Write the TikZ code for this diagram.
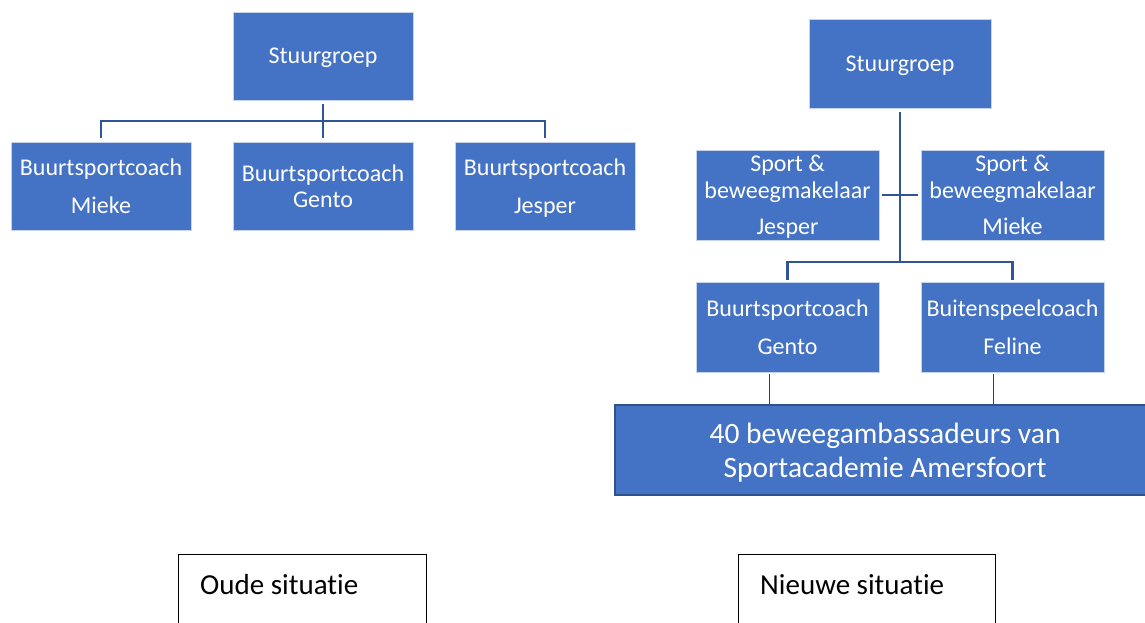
\documentclass[tikz,border=0pt]{standalone}
\usepackage{fontspec}
\setmainfont{Carlito}[Ligatures=NoCommon]
\definecolor{boxblue}{HTML}{4472C4}
\definecolor{boxedge}{HTML}{C5D3EC}
\definecolor{connblue}{HTML}{2F5597}
\definecolor{bigedge}{HTML}{2F528F}
\definecolor{lowgray}{HTML}{404040}
\begin{document}
\begin{tikzpicture}[x=1pt,y=-1pt,
  orgbox/.style={draw=boxedge, line width=0.8pt, fill=boxblue, text=white, align=center,
    minimum width=180pt, minimum height=88pt, inner sep=0pt, text depth=0pt,
    font=\fontsize{24}{26}\selectfont},
  widebox/.style={orgbox, minimum width=183pt, minimum height=90pt},
  bigbox/.style={draw=bigedge, line width=2pt, fill=boxblue, text=white, align=center,
    minimum width=540pt, minimum height=90pt, inner sep=0pt, text depth=0pt,
    font=\fontsize{29.5}{34}\selectfont},
  conn/.style={draw=connblue, line width=2.5pt},
  lowconn/.style={draw=lowgray, line width=1.5pt},
  capbox/.style={draw=black, line width=1.3pt, anchor=north west, inner sep=0pt},
  captext/.style={anchor=west, inner sep=0pt, font=\fontsize{29}{32}\selectfont}
]
\useasboundingbox (0,0) rectangle (1145,622);
\fill[white] (0,0) rectangle (1145,622);

% ---- old situation ----
\node[orgbox] (sg1) at (323,56) {Stuurgroep};
\node[orgbox] (m1) at (101,186) {Buurtsportcoach\\[12pt]Mieke};
\node[orgbox] (g1) at (323,186) {Buurtsportcoach\\Gento};
\node[orgbox] (j1) at (545,186) {Buurtsportcoach\\[12pt]Jesper};
\coordinate (bus1) at (323,121);
\draw[conn] ([yshift=-4pt]sg1.south) -- ([yshift=4pt]g1.north);
\draw[conn] ([yshift=4pt]m1.north) -- (m1.north |- bus1) -- (j1.north |- bus1) -- ([yshift=4pt]j1.north);

% ---- new situation ----
\node[orgbox, minimum width=182pt, minimum height=89pt] (sg2) at (900,63.5) {Stuurgroep};
\node[widebox, font=\fontsize{24}{27}\selectfont] (s1) at (787.5,195) {Sport \&\\beweegmakelaar\\[9pt]Jesper};
\node[widebox, font=\fontsize{24}{27}\selectfont] (s2) at (1012.5,195) {Sport \&\\beweegmakelaar\\[9pt]Mieke};
\node[widebox] (b2) at (787.5,327) {Buurtsportcoach\\[12pt]Gento};
\node[widebox] (f2) at (1012.5,327) {Buitenspeelcoach\\[12pt]Feline};
\node[bigbox] (big) at (885,450) {40 beweegambassadeurs van\\Sportacademie Amersfoort};
\coordinate (bus2) at (900,262);
\draw[conn] ([yshift=-4pt]sg2.south) -- (bus2);
\draw[conn] ([xshift=3pt]s1.east) -- ([xshift=-3pt]s2.west);
\draw[conn] ([yshift=2pt]b2.north) -- (b2.north |- bus2) -- (f2.north |- bus2) -- ([yshift=2pt]f2.north);
\draw[lowconn] ([xshift=-18pt,yshift=-2pt]b2.south) -- ([xshift=-18pt]b2.south |- big.north);
\draw[lowconn] ([xshift=-19pt,yshift=-2pt]f2.south) -- ([xshift=-19pt]f2.south |- big.north);

% ---- captions ----
\node[capbox, minimum width=248pt, minimum height=90pt] (c1) at (178,554) {};
\node[captext] (c1t) at (200,585) {Oude situatie};
\node[capbox, minimum width=257pt, minimum height=90pt] (c2) at (738,554) {};
\node[captext] (c2t) at (760,585) {Nieuwe situatie};
\end{tikzpicture}
\end{document}
